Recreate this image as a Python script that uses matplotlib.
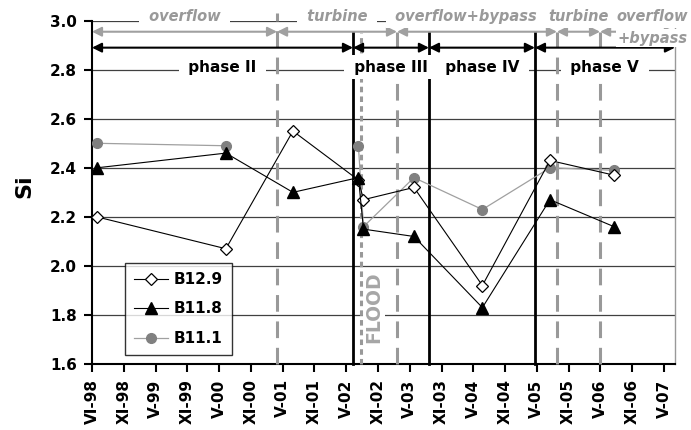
import numpy as np
import pandas as pd
import matplotlib
matplotlib.use('Agg')
import matplotlib.pyplot as plt
import matplotlib.dates as mdates

plt.rcParams['font.family'] = 'DejaVu Sans'
plt.rcParams['font.weight'] = 'bold'
plt.rcParams['lines.scale_dashes'] = False

# sampling dates and Si values
dates = ['1998-06-29', '2000-07-07', '2001-07-26', '2002-08-05', '2002-09-03',
         '2003-06-19', '2004-07-15', '2005-08-06', '2006-08-08']
b129 = [2.20, 2.07, 2.55, 2.35, 2.27, 2.32, 1.92, 2.43, 2.37]
b118 = [2.40, 2.46, 2.30, 2.36, 2.15, 2.12, 1.83, 2.27, 2.16]
b111 = [2.50, 2.49, np.nan, 2.49, 2.16, 2.36, 2.23, 2.40, 2.39]

tick_labels = ['VI-98', 'XI-98', 'V-99', 'XI-99', 'V-00', 'XI-00', 'V-01', 'XI-01', 'V-02',
               'XI-02', 'V-03', 'XI-03', 'V-04', 'XI-04', 'V-05', 'XI-05', 'V-06', 'XI-06', 'V-07']

# outlet regimes (gray) and phases (black)
regime_bounds = ['1998-06-01', '2001-04-26', '2003-03-14', '2005-09-15', '2006-05-20', '2007-07-23']
regime_names = ['overflow', 'turbine', 'overflow+bypass', 'turbine', 'overflow']
phase_bounds = ['1998-06-01', '2002-07-05', '2003-09-13', '2005-05-12', '2007-07-23']
phase_names = ['phase II', 'phase III', 'phase IV', 'phase V']
flood_date = '2002-08-20'

x = mdates.date2num(pd.to_datetime(dates))
rb = mdates.date2num(pd.to_datetime(regime_bounds))
pb = mdates.date2num(pd.to_datetime(phase_bounds))
xf = mdates.date2num(pd.to_datetime(flood_date))

fig = plt.figure(figsize=(6.91, 4.30), dpi=100)
ax = fig.add_axes([0.1331, 0.1535, 0.8437, 0.7984])

gray = '#999999'

# data
ax.plot(x, b129, color='black', lw=0.8, marker='D', ms=6.5, mfc='white', mec='black',
        mew=0.9, label='B12.9', zorder=6)
ax.plot(x, b118, color='black', lw=0.8, marker='^', ms=8, mfc='black', mec='black',
        label='B11.8', zorder=6)
ax.plot(x, b111, color='#a0a0a0', lw=0.9, marker='o', ms=7, mfc='#808080', mec='#808080',
        label='B11.1', zorder=5)

# vertical separators
for d in rb[1:-1]:
    top = 3.03 if d == rb[1] else 2.955
    ax.plot([d, d], [1.6, top], color=gray, lw=2.2, dashes=(12, 7), clip_on=False, zorder=3)
for d in pb[1:-1]:
    ax.plot([d, d], [1.6, 2.955], color='black', lw=2, clip_on=False, zorder=4)
ax.plot([xf, xf], [1.6, 2.95], color=gray, lw=2.2, dashes=(4, 3), clip_on=False, zorder=4)

# arrows
for i in range(len(regime_names)):
    ax.annotate('', xy=(rb[i + 1], 2.955), xytext=(rb[i], 2.955),
                arrowprops=dict(arrowstyle='<|-|>', color='#a0a0a0', lw=1.5,
                                mutation_scale=14, shrinkA=0, shrinkB=0),
                annotation_clip=False, zorder=5)
for i in range(len(phase_names)):
    ax.annotate('', xy=(pb[i + 1], 2.89), xytext=(pb[i], 2.89),
                arrowprops=dict(arrowstyle='<|-|>', color='black', lw=1.5,
                                mutation_scale=14, shrinkA=0, shrinkB=0),
                annotation_clip=False, zorder=5)

box = dict(boxstyle='square,pad=0.3', fc='white', ec='none')
for i, name in enumerate(regime_names):
    mid = (rb[i] + rb[i + 1]) / 2
    dx = -8 if i == 2 else 0
    ha = 'center'
    txt = ' ' + name + ' ' if i < 3 else name
    if i == len(regime_names) - 1:
        mid = rb[i + 1]
        dx = 9
        ha = 'right'
    ax.annotate(txt, xy=(mid, 3.019), xytext=(dx, 0), textcoords='offset points',
                ha=ha, va='center', fontsize=10.5, style='italic', color=gray,
                bbox=box, annotation_clip=False, zorder=7)
ax.annotate('+bypass', xy=(rb[-1], 2.929), xytext=(9, 0), textcoords='offset points',
            ha='right', va='center', fontsize=10.5, style='italic', color=gray,
            bbox=dict(boxstyle='square,pad=0.1', fc='white', ec='none'),
            annotation_clip=False, zorder=7)
for i, name in enumerate(phase_names):
    mid = (pb[i] + pb[i + 1]) / 2
    ax.text(mid, 2.81, ' ' + name + ' ', ha='center', va='center', fontsize=11,
            color='black', bbox=box, zorder=7)

ax.text(mdates.date2num(pd.to_datetime('2002-11-02')), 1.83, 'FLOOD', rotation=90,
        ha='center', va='center', fontsize=13.5, color='#a6a6a6',
        bbox=dict(boxstyle='square,pad=0.1', fc='white', ec='none'), zorder=3.5)

# axes
start = mdates.date2num(pd.to_datetime('1998-06-01'))
ax.set_xlim(start, pb[-1])
ax.set_ylim(1.6, 3.0)
ax.set_xticks(start + 182 * np.arange(len(tick_labels)))
ax.set_xticklabels(tick_labels, rotation=90, fontsize=11)
ax.set_yticks(np.arange(1.6, 3.01, 0.2))
ax.set_yticklabels(['%.1f' % v for v in np.arange(1.6, 3.01, 0.2)], fontsize=11)
ax.tick_params(axis='both', direction='out', length=6, width=1.5, pad=5)
ax.yaxis.grid(True, color='#404040', lw=0.9, zorder=0)
ax.set_axisbelow(True)
ax.spines['top'].set_visible(False)
ax.spines['right'].set_color(gray)
ax.spines['right'].set_linewidth(1)
ax.spines['left'].set_linewidth(1.5)
ax.spines['bottom'].set_linewidth(1.5)

fig.text(24 / 691, 1 - 186 / 430, 'Si', rotation=90, ha='center', va='center', fontsize=16)

leg = ax.legend(loc='lower left', bbox_to_anchor=(0.057, 0.026), borderaxespad=0,
                fontsize=11, frameon=True, fancybox=False, labelspacing=0.95,
                handlelength=2.2, handletextpad=0.35, borderpad=0.6)
leg.get_frame().set_edgecolor('black')
leg.get_frame().set_linewidth(1)
leg.set_zorder(10)

fig.savefig('out.png', dpi=100)
